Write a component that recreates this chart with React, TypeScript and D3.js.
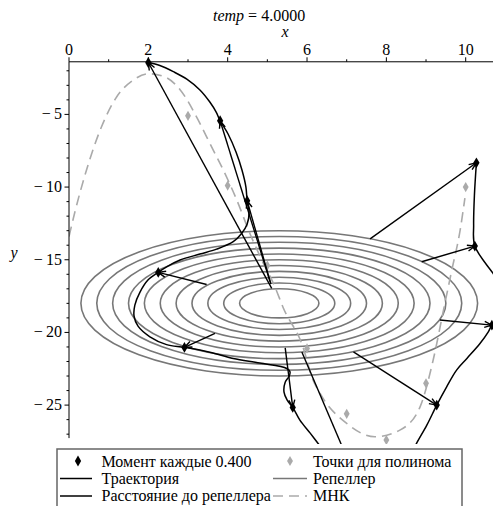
import React from "react";
import * as d3 from "d3";

const W = 493;
const H = 506;

// axis ticks
const xMajor = [0, 2, 4, 6, 8, 10];
const xMinor = [1, 3, 5, 7, 9];
const yMajor = [-5, -10, -15, -20, -25];
const yMinor = [-2, -3, -4, -6, -7, -8, -9, -11, -12, -13, -14, -16, -17, -18, -19, -21, -22, -23, -24, -26, -27];

// repeller: concentric circles
const repCenterX = 5.3;
const repCenterY = -18;
const repRadii = [1.0, 1.4, 1.8, 2.2, 2.6, 3.0, 3.4, 3.8, 4.2, 4.6, 5.0];

// points for polynomial
const polyX = [2, 3, 4, 5, 6, 7, 8, 9, 10];
const polyY = [-1.5, -5.1, -9.9, -15.4, -21.1, -25.6, -27.4, -23.5, -10.0];

// least squares curve
const mnkX = [0, 0.15, 0.4, 0.82, 1.2, 1.62, 2.0, 2.4, 2.8, 3.3, 3.55, 3.93, 4.23, 4.56, 4.86, 5.19, 5.4, 5.91, 6.12, 6.33, 7.0, 7.71, 8.34, 8.85, 9.18, 9.44, 9.65, 9.86, 9.98];
const mnkY = [-13.4, -11.7, -9.2, -5.85, -3.8, -2.64, -2.2, -2.4, -3.3, -5.62, -6.99, -9.06, -10.89, -13.19, -15.02, -16.86, -18.3, -21.1, -23.06, -24.2, -26.26, -27.18, -26.72, -25.12, -21.9, -18.47, -15.71, -12.96, -10.76];

// trajectory (visible pieces)
const traj1X = [2.0, 2.29, 2.63, 2.97, 3.3, 3.55, 3.71, 3.81, 4.01, 4.21, 4.36, 4.46, 4.49, 4.54, 4.49, 4.35, 4.14, 3.72, 3.3, 2.8, 2.46, 2.25, 1.99, 1.79, 1.66, 1.64, 1.74, 2.04, 2.46, 2.91, 3.55, 4.14, 4.81, 5.49, 5.57, 5.55, 5.45, 5.42, 5.5, 5.64, 5.82, 6.08, 6.28, 6.5];
const traj1Y = [-1.43, -1.64, -2.06, -2.57, -3.32, -4.15, -4.84, -5.44, -6.35, -7.59, -8.83, -10.0, -10.94, -11.72, -12.55, -13.19, -13.76, -14.27, -14.61, -15.02, -15.49, -15.87, -16.4, -17.23, -18.12, -18.88, -19.57, -20.3, -20.84, -21.03, -21.36, -21.79, -22.11, -22.48, -22.71, -23.01, -23.42, -24.11, -24.66, -25.16, -26.03, -26.93, -27.64, -28.4];
const traj2X = [8.6, 8.76, 9.02, 9.27, 9.52, 9.77, 10.03, 10.36, 10.57, 10.66, 10.99];
const traj2Y = [-28.5, -27.64, -26.38, -25.0, -23.74, -22.59, -21.79, -20.76, -19.96, -19.5, -18.6];
const traj3X = [10.99, 10.69, 10.23, 10.2, 10.22, 10.27];
const traj3Y = [-17.1, -15.94, -14.06, -12.62, -10.55, -8.33];

// moments every 0.400
const momentX = [2.0, 3.81, 4.49, 2.25, 2.91, 5.64, 7.14, 9.27, 10.66, 10.23, 10.27];
const momentY = [-1.43, -5.44, -10.94, -15.87, -21.03, -25.16, -29.48, -25.0, -19.5, -14.06, -8.33];

// distance to repeller: start points of arrows (one per moment)
const distFromX = [5.11, 5.07, 5.09, 3.47, 3.68, 5.45, 5.87, 7.17, 9.35, 8.89, 7.59];
const distFromY = [-16.97, -16.52, -16.68, -16.7, -20.07, -21.06, -21.34, -21.34, -19.15, -15.14, -13.56];

const legendLeft = ["Момент каждые 0.400", "Траектория", "Расстояние до репеллера"];
const legendRight = ["Точки для полинома", "Репеллер", "МНК"];

const FONT = "Liberation Serif";
const ts: React.CSSProperties = { fontFamily: FONT, fontSize: "16px" };
const tsi: React.CSSProperties = { fontFamily: FONT, fontSize: "16px", fontStyle: "italic" };

export default function App() {
  const x = d3.scaleLinear().domain([0, 10]).range([69, 465.7]);
  const y = d3.scaleLinear().domain([-5, -25]).range([114.4, 405.1]);

  const xAxisY = y(-1.38);
  const yAxisBottom = y(-27.27);
  const x0 = x(0);

  const lineCR = d3
    .line<[number, number]>()
    .x((d) => x(d[0]))
    .y((d) => y(d[1]))
    .curve(d3.curveCatmullRom.alpha(0.5));
  const lineMono = d3
    .line<[number, number]>()
    .x((d) => x(d[0]))
    .y((d) => y(d[1]))
    .curve(d3.curveMonotoneX);

  const zip = (a: number[], b: number[]) => a.map((v, i) => [v, b[i]] as [number, number]);

  const diamond = d3.symbol().type(d3.symbolDiamond).size(34)() as string;
  const diamondGray = d3.symbol().type(d3.symbolDiamond).size(30)() as string;

  const arrowHead = (x1: number, y1: number, x2: number, y2: number) => {
    const ang = Math.atan2(y2 - y1, x2 - x1);
    const L = 8;
    const a = (22 * Math.PI) / 180;
    const p1 = [x2 - L * Math.cos(ang - a), y2 - L * Math.sin(ang - a)];
    const p2 = [x2 - L * Math.cos(ang + a), y2 - L * Math.sin(ang + a)];
    return `M${p1[0]},${p1[1]}L${x2},${y2}L${p2[0]},${p2[1]}`;
  };

  const cx = x(repCenterX);
  const cy = y(repCenterY);

  return (
    <svg width={W} height={H} style={{ position: "absolute", left: 0, top: 0, background: "#fff" }}>
      <defs>
        <clipPath id="plotclip">
          <rect x={x0} y={50} width={W - x0} height={444 - 50} />
        </clipPath>
      </defs>

      {/* title */}
      <text x={213} y={21} style={ts} fill="#000">
        <tspan style={{ fontStyle: "italic" }}>temp</tspan>
        <tspan> = 4.0000</tspan>
      </text>
      <text x={285} y={37} style={tsi} textAnchor="middle">
        x
      </text>
      <text x={14} y={258} style={tsi} textAnchor="middle">
        y
      </text>

      <g clipPath="url(#plotclip)">
        {/* repeller */}
        {repRadii.map((r, i) => (
          <ellipse
            key={i}
            cx={cx}
            cy={cy}
            rx={x(repCenterX + r) - cx}
            ry={y(repCenterY - r) - cy}
            fill="none"
            stroke="#777"
            strokeWidth={1.6}
          />
        ))}
        {/* least squares */}
        <path
          d={lineMono(zip(mnkX, mnkY)) || ""}
          fill="none"
          stroke="#aaa"
          strokeWidth={1.6}
          strokeDasharray="10,6"
        />
        {/* polynomial points */}
        {polyX.map((v, i) => (
          <path key={i} d={diamondGray} transform={`translate(${x(v)},${y(polyY[i])})`} fill="#aaa" />
        ))}
        {/* trajectory */}
        {[zip(traj1X, traj1Y), zip(traj2X, traj2Y), zip(traj3X, traj3Y)].map((seg, i) => (
          <path key={i} d={lineCR(seg) || ""} fill="none" stroke="#000" strokeWidth={1.5} />
        ))}
        {/* distance arrows */}
        {momentX.map((mx, i) => {
          const x1 = x(distFromX[i]);
          const y1 = y(distFromY[i]);
          const x2 = x(mx);
          const y2 = y(momentY[i]);
          return (
            <g key={i}>
              <line x1={x1} y1={y1} x2={x2} y2={y2} stroke="#000" strokeWidth={1.4} />
              <path d={arrowHead(x1, y1, x2, y2)} fill="none" stroke="#000" strokeWidth={1.4} />
            </g>
          );
        })}
        {/* moments */}
        {momentX.map((mx, i) => (
          <path key={i} d={diamond} transform={`translate(${x(mx)},${y(momentY[i])})`} fill="#000" />
        ))}
      </g>

      {/* axes */}
      <line x1={x0} y1={xAxisY} x2={W} y2={xAxisY} stroke="#000" strokeWidth={1} />
      <line x1={x0} y1={xAxisY} x2={x0} y2={yAxisBottom} stroke="#000" strokeWidth={1} />
      {xMajor.map((v) => (
        <g key={v}>
          <line x1={x(v)} x2={x(v)} y1={xAxisY} y2={xAxisY - 4.5} stroke="#000" />
          <text x={x(v)} y={54.5} style={ts} textAnchor="middle">
            {v}
          </text>
        </g>
      ))}
      {xMinor.map((v) => (
        <line key={v} x1={x(v)} x2={x(v)} y1={xAxisY} y2={xAxisY - 2.5} stroke="#000" />
      ))}
      {yMajor.map((v) => (
        <g key={v}>
          <line x1={x0} x2={x0 - 4.5} y1={y(v)} y2={y(v)} stroke="#000" />
          <text x={62} y={y(v) + 5} style={ts} textAnchor="end">
            {"\u2212\u2009" + Math.abs(v)}
          </text>
        </g>
      ))}
      {yMinor.map((v) => (
        <line key={v} x1={x0} x2={x0 - 2.5} y1={y(v)} y2={y(v)} stroke="#000" />
      ))}

      {/* legend */}
      <rect x={57} y={449} width={405} height={70} fill="#fff" stroke="#666" strokeWidth={1.5} />
      {legendLeft.map((t, i) => (
        <text key={t} x={101.5} y={466.5 + i * 17.4} style={ts}>
          {t}
        </text>
      ))}
      {legendRight.map((t, i) => (
        <text key={t} x={313} y={466.5 + i * 17.4} style={ts}>
          {t}
        </text>
      ))}
      <path d={diamond} transform={`translate(78,461)`} fill="#000" />
      <line x1={60} x2={92} y1={478.5} y2={478.5} stroke="#000" strokeWidth={1.5} />
      <line x1={60} x2={92} y1={496} y2={496} stroke="#000" strokeWidth={1.5} />
      <path d={diamondGray} transform={`translate(290,461)`} fill="#aaa" />
      <line x1={273} x2={307} y1={478.5} y2={478.5} stroke="#777" strokeWidth={1.6} />
      <line x1={273} x2={307} y1={496} y2={496} stroke="#aaa" strokeWidth={1.6} strokeDasharray="10,6" />
    </svg>
  );
}
